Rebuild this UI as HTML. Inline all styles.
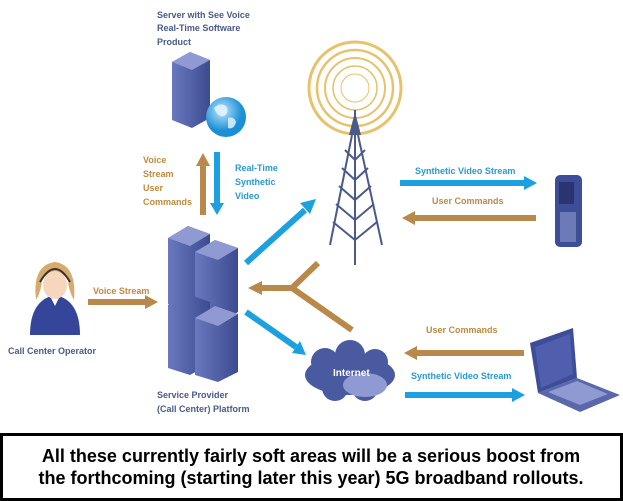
<!DOCTYPE html>
<html><head><meta charset="utf-8"><style>
html,body{margin:0;padding:0;background:#fff;}
svg{display:block;}
</style></head><body>
<svg width="623" height="501" viewBox="0 0 623 501" xmlns="http://www.w3.org/2000/svg" font-family="Liberation Sans, sans-serif">
<defs>
<linearGradient id="srv" x1="0" x2="1"><stop offset="0" stop-color="#6a78c0"/><stop offset="1" stop-color="#3c4a8e"/></linearGradient>
<radialGradient id="glb" cx="0.4" cy="0.35"><stop offset="0" stop-color="#bfe6fb"/><stop offset="1" stop-color="#1b8fd6"/></radialGradient>
</defs>
<g font-size="9" font-weight="bold" fill="#4a5a8a">
<text x="157" y="18">Server with See Voice</text>
<text x="157" y="31">Real-Time Software</text>
<text x="157" y="45">Product</text>
</g>
<polygon points="172,62 190,52 210,60 210,118 192,128 172,120" fill="url(#srv)"/>
<polygon points="172,62 190,52 210,60 192,70" fill="#8f9ad3"/>
<circle cx="226" cy="117" r="20" fill="url(#glb)"/>
<path d="M214,108 q6,-6 12,-2 q4,6 -2,10 q-6,2 -10,-8z M228,118 q6,-2 8,4 q-2,8 -8,6z" fill="#e8f6ff" opacity="0.8"/>
<rect x="200" y="165" width="6" height="50" fill="#b8894a"/>
<polygon points="196,166 203,153 210,166" fill="#b8894a"/>
<rect x="214" y="152" width="6" height="52" fill="#1da0e0"/>
<polygon points="210,203 217,215 224,203" fill="#1da0e0"/>
<g font-size="9" font-weight="bold" fill="#c08a40">
<text x="143" y="163">Voice</text><text x="143" y="177">Stream</text><text x="143" y="191">User</text><text x="143" y="205">Commands</text>
</g>
<g font-size="9" font-weight="bold" fill="#2a9ad0">
<text x="235" y="171">Real-Time</text><text x="235" y="185">Synthetic</text><text x="235" y="199">Video</text>
</g>
<g>
<polygon points="168,238 188,226 210,234 210,300 190,312 168,304" fill="url(#srv)"/>
<polygon points="168,238 188,226 210,234 190,246" fill="#8f9ad3"/>
<polygon points="195,252 215,240 238,248 238,312 218,324 195,316" fill="url(#srv)"/>
<polygon points="195,252 215,240 238,248 218,260" fill="#8f9ad3"/>
<polygon points="168,305 188,294 210,302 210,364 190,375 168,368" fill="url(#srv)"/>
<polygon points="195,318 215,306 238,314 238,372 218,382 195,375" fill="url(#srv)"/>
<polygon points="195,318 215,306 238,314 218,326" fill="#8f9ad3"/>
</g>
<g font-size="9" font-weight="bold" fill="#4a5a8a">
<text x="157" y="398">Service Provider</text><text x="157" y="412">(Call Center) Platform</text>
</g>
<path d="M30,335 q0,-35 25,-40 q25,5 25,40z" fill="#34459a"/>
<path d="M50,296 l5,10 l5,-10z" fill="#fff"/>
<path d="M36,300 q-4,-35 19,-38 q22,3 19,38 q-6,-10 -6,-22 q-13,-8 -26,0 q0,12 -6,22z" fill="#d8ab6c"/>
<ellipse cx="55" cy="285" rx="12" ry="14" fill="#f6d7bd"/>
<path d="M40,282 q15,-26 30,0" fill="none" stroke="#333" stroke-width="2"/>
<text x="8" y="354" font-size="9" font-weight="bold" fill="#4a5a8a">Call Center Operator</text>
<text x="93" y="294" font-size="9" font-weight="bold" fill="#c08a40">Voice Stream</text>
<rect x="88" y="299" width="58" height="6" fill="#b8894a"/>
<polygon points="145,295 158,302 145,309" fill="#b8894a"/>
<line x1="246" y1="263" x2="305" y2="210" stroke="#1da0e0" stroke-width="6"/>
<polygon points="300,203 316,199 310,214" fill="#1da0e0"/>
<line x1="246" y1="312" x2="296" y2="347" stroke="#1da0e0" stroke-width="6"/>
<polygon points="292,353 306,355 300,341" fill="#1da0e0"/>
<polyline points="318,263 292,288 352,330" fill="none" stroke="#b8894a" stroke-width="6"/>
<rect x="260" y="285" width="32" height="6" fill="#b8894a"/>
<polygon points="262,281 248,288 262,295" fill="#b8894a"/>
<g fill="none" stroke="#e6c36a">
<circle cx="355" cy="88" r="46" stroke-width="3"/>
<circle cx="355" cy="88" r="38" stroke-width="2.5"/>
<circle cx="355" cy="88" r="30" stroke-width="2"/>
<circle cx="355" cy="88" r="22" stroke-width="1.5"/>
<circle cx="355" cy="88" r="14" stroke-width="1"/>
</g>
<g stroke="#4a5a8a" stroke-width="2" fill="none">
<line x1="355" y1="110" x2="355" y2="265"/>
<line x1="352" y1="135" x2="330" y2="245"/>
<line x1="358" y1="135" x2="382" y2="245"/>
<polyline points="345,150 355,160 365,150"/>
<polyline points="342,168 355,180 368,168"/>
<polyline points="339,186 355,200 371,186"/>
<polyline points="336,204 355,220 374,204"/>
<polyline points="333,222 355,240 377,222"/>
</g>
<polygon points="349,135 355,112 361,135" fill="#4a5a8a"/>
<text x="415" y="174" font-size="9" font-weight="bold" fill="#2a9ad0">Synthetic Video Stream</text>
<rect x="400" y="180" width="125" height="6" fill="#1da0e0"/>
<polygon points="524,176 537,183 524,190" fill="#1da0e0"/>
<text x="432" y="204" font-size="9" font-weight="bold" fill="#c08a40">User Commands</text>
<rect x="414" y="215" width="122" height="6" fill="#b8894a"/>
<polygon points="415,211 402,218 415,225" fill="#b8894a"/>
<rect x="555" y="175" width="27" height="72" rx="5" fill="#3e4d98"/>
<rect x="559" y="182" width="15" height="22" fill="#2a3470"/>
<rect x="560" y="212" width="16" height="30" fill="#6d7ab8"/>
<g fill="#4a5aa0">
<ellipse cx="350" cy="375" rx="45" ry="20"/>
<circle cx="325" cy="362" r="14"/><circle cx="350" cy="355" r="15"/><circle cx="375" cy="362" r="13"/>
<circle cx="335" cy="388" r="13"/><circle cx="365" cy="388" r="13"/>
</g>
<ellipse cx="365" cy="385" rx="22" ry="12" fill="#8f9ad3"/>
<text x="333" y="376" font-size="10" font-weight="bold" fill="#fff">Internet</text>
<text x="426" y="333" font-size="9" font-weight="bold" fill="#c08a40">User Commands</text>
<rect x="416" y="350" width="108" height="6" fill="#b8894a"/>
<polygon points="417,346 404,353 417,360" fill="#b8894a"/>
<text x="411" y="379" font-size="9" font-weight="bold" fill="#2a9ad0">Synthetic Video Stream</text>
<rect x="405" y="392" width="108" height="6" fill="#1da0e0"/>
<polygon points="512,388 525,395 512,402" fill="#1da0e0"/>
<polygon points="530,343 573,328 577,378 538,393" fill="#3e4d98"/>
<polygon points="535,347 570,334 573,374 541,388" fill="#4f5fae"/>
<polygon points="538,393 577,378 620,395 580,412" fill="#5a67aa"/>
<polygon points="548,392 577,381 608,394 580,405" fill="#8f9ad3"/>
<rect x="1.5" y="434.5" width="620" height="65" fill="#fff" stroke="#000" stroke-width="3"/>
<g font-size="18" font-weight="bold" fill="#000" text-anchor="middle">
<text x="311" y="462">All these currently fairly soft areas will be a serious boost from</text>
<text x="311" y="484">the forthcoming (starting later this year) 5G broadband rollouts.</text>
</g>
</svg>
</body></html>
